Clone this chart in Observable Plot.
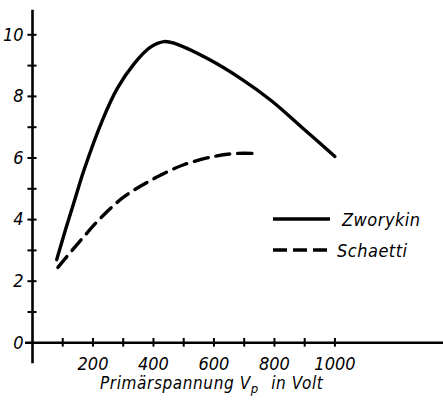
<!DOCTYPE html>
<html><head><meta charset="utf-8">
<script src="https://cdn.jsdelivr.net/npm/d3@7"></script>
<script src="https://cdn.jsdelivr.net/npm/@observablehq/plot@0.6"></script>
<style>
html,body{margin:0;padding:0;background:#fff;}
</style>
</head><body>
<div id="chart"></div>
<script>
const zworykinV = [80,110,140,170,230,280,335,390,435,470,580,690,790,890,1000];
const zworykinS = [2.7,3.7,4.65,5.6,7.2,8.25,9.05,9.6,9.78,9.72,9.22,8.57,7.86,7.0,6.05];
const schaettiV = [84,150,225,300,390,500,610,680,727];
const schaettiS = [2.45,3.22,4.05,4.72,5.27,5.78,6.07,6.15,6.15];
const xTickValues = [100,200,300,400,500,600,700,800,900,1000];
const xTickLabels = [200,400,600,800,1000];
const yTickValues = [1,2,3,4,5,6,7,8,9,10];
const yTickLabels = [0,2,4,6,8,10];
const seriesNames = ["Zworykin","Schaetti"];
const xAxisTitle = ["Primärspannung V","p"," in Volt"];

const FONT = "'DejaVu Sans Condensed','DejaVu Sans',sans-serif";
const zw = zworykinV.map((v,i)=>({v, s: zworykinS[i]}));
const sc = schaettiV.map((v,i)=>({v, s: schaettiS[i]}));

const W = 443, H = 403;
const plot = Plot.plot({
  width: W, height: H,
  marginLeft: 32, marginRight: 0, marginTop: 34.3, marginBottom: 60.7,
  x: {domain: [0, 1359], axis: null},
  y: {domain: [0, 10], axis: null},
  style: {background: "#fff", color: "#000", fontSize: "18px", fontFamily: FONT, fontStyle: "italic"},
  marks: [
    Plot.ruleY([0], {x1: -23, x2: 1359, stroke: "#000", strokeWidth: 2.6}),
    Plot.ruleX([0], {y1: -0.68, y2: 10.8, stroke: "#000", strokeWidth: 2.6}),
    Plot.ruleX(xTickValues, {x: d => d, y1: -0.14, y2: 0.14, stroke: "#000", strokeWidth: 2}),
    Plot.ruleY(yTickValues, {y: d => d, x1: -15, x2: 15, stroke: "#000", strokeWidth: 2}),
    Plot.text(xTickLabels, {x: d => d, y: 0, dy: 21, text: d => String(d), fill: "#000", fontSize: 18, fontFamily: FONT, fontStyle: "italic"}),
    Plot.text(yTickLabels, {x: 0, y: d => d, dx: -9, textAnchor: "end", text: d => String(d), fill: "#000", fontSize: 18, fontFamily: FONT, fontStyle: "italic"}),
    Plot.line(zw, {x: "v", y: "s", curve: "catmull-rom", stroke: "#000", strokeWidth: 3.4}),
    Plot.line(sc, {x: "v", y: "s", curve: "catmull-rom", stroke: "#000", strokeWidth: 3.4, strokeDasharray: "14,8"})
  ]
});
document.getElementById("chart").appendChild(plot);

const svg = d3.select(plot);
// x-axis title with subscript
const t = svg.append("text").attr("x", 100).attr("y", 389)
  .attr("font-size", 17).attr("fill", "#000").attr("text-anchor", "start")
  .attr("letter-spacing", 0.6);
t.append("tspan").text(xAxisTitle[0]);
t.append("tspan").attr("dy", 4).attr("font-size", 13).text(xAxisTitle[1]);
t.append("tspan").attr("dy", -4).attr("dx", 7).text(xAxisTitle[2]);

// legend
const leg = svg.append("g");
const legY = [219, 250];
const dashes = [null, "14,6"];
seriesNames.forEach((name, i) => {
  leg.append("line").attr("x1", 273).attr("x2", 330).attr("y1", legY[i]).attr("y2", legY[i])
    .attr("stroke", "#000").attr("stroke-width", 3.4)
    .attr("stroke-dasharray", dashes[i]);
  leg.append("text").attr("x", i === 0 ? 342 : 337).attr("y", legY[i] + 7)
    .attr("font-size", 18).attr("fill", "#000").attr("text-anchor", "start")
    .attr("letter-spacing", 0.5).text(name);
});
svg.selectAll("text").style("font-family", FONT).style("font-style", "italic");
</script>
</body></html>
